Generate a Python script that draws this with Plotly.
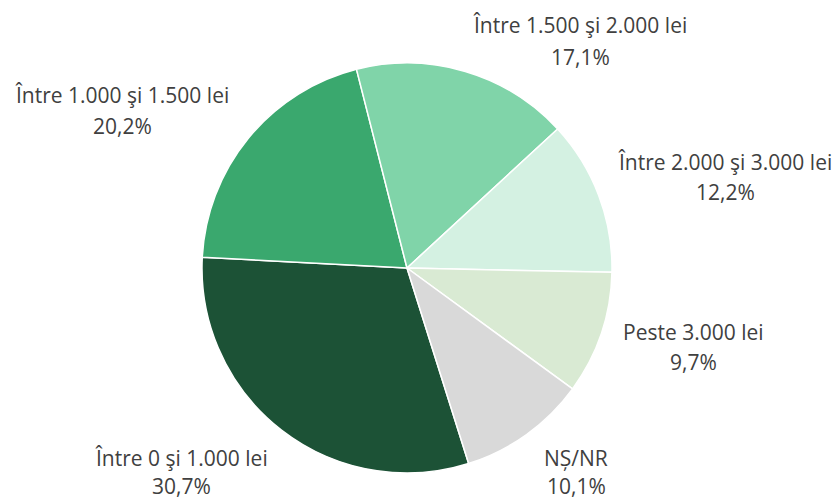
import plotly.graph_objects as go

labels = ["Între 0 şi 1.000 lei", "Între 1.000 şi 1.500 lei", "Între 1.500 şi 2.000 lei",
          "Între 2.000 şi 3.000 lei", "Peste 3.000 lei", "NȘ/NR"]
values = [30.7, 20.2, 17.1, 12.2, 9.7, 10.1]
pct_text = ["30,7%", "20,2%", "17,1%", "12,2%", "9,7%", "10,1%"]
colors = ["#1c5236", "#3aa86e", "#80d4a9", "#d4f1e2", "#d9ead3", "#d9d9d9"]

# label positions (pixels): x centre, y of name line, y of percent line
label_pos = [(181, 458, 486), (122, 95, 126), (580, 25, 57),
             (725, 162, 192), (693, 332, 362), (576, 458, 486)]

W, H = 840, 499
cx, cy, r = 407, 268, 205

fig = go.Figure(go.Pie(
    labels=labels, values=values, sort=False, direction="clockwise",
    rotation=162.5, textinfo="none", hoverinfo="label+percent",
    marker=dict(colors=colors, line=dict(color="white", width=1.5)),
    domain=dict(x=[(cx - r) / W, (cx + r) / W], y=[(H - cy - r) / H, (H - cy + r) / H]),
    showlegend=False,
))

font = dict(family="Open Sans", size=21, color="#404040")
for lab, pct, (px, py1, py2) in zip(labels, pct_text, label_pos):
    for txt, py in ((lab, py1), (pct, py2)):
        fig.add_annotation(
            x=px / W, y=1 - py / H, xref="paper", yref="paper",
            text=txt, showarrow=False, align="center", borderpad=0,
            xanchor="center", yanchor="middle", font=font,
        )

fig.update_layout(width=W, height=H, margin=dict(l=0, r=0, t=0, b=0),
                  paper_bgcolor="white", plot_bgcolor="white")
fig.write_html("out.html", config={"displayModeBar": False},
               post_script="document.body.style.margin='0';document.body.style.padding='0';")
